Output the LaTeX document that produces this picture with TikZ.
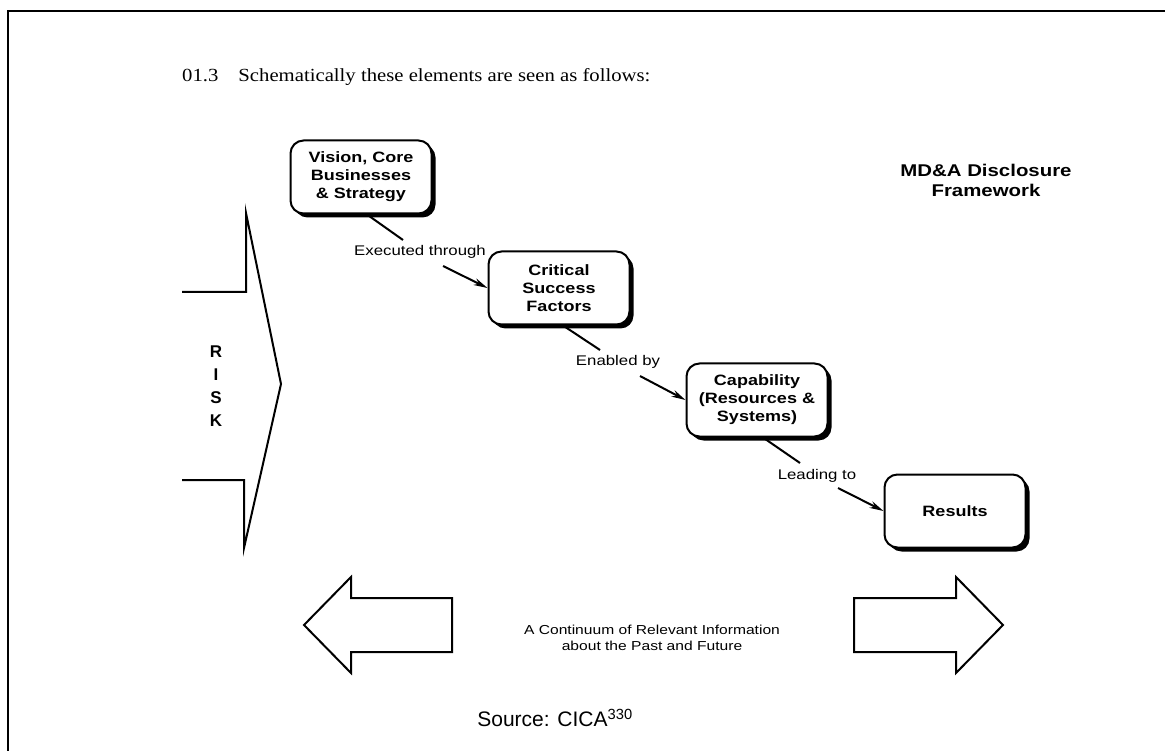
\documentclass[tikz,border=0pt]{standalone}
\usepackage{fontspec}
\setmainfont{Liberation Serif}
\setsansfont{Liberation Sans}
\newfontfamily\widesans[FakeStretch=1.2]{Liberation Sans}
\newfontfamily\widerm[FakeStretch=1.12]{Liberation Serif}
\usetikzlibrary{arrows.meta,shadows}
\begin{document}
\begin{tikzpicture}[x=1pt,y=-1pt,
  every node/.style={inner sep=0pt},
  stepbox/.style={draw,line width=2pt,rounded corners=13pt,fill=white,
    minimum width=141pt,minimum height=73pt,align=center,
    font=\widesans\bfseries\fontsize{15}{18}\selectfont,
    drop shadow={shadow xshift=4pt,shadow yshift=-4pt,fill=black,opacity=1}},
  lab/.style={font=\widesans\fontsize{14}{16}\selectfont},
  conn/.style={line width=2pt},
  arr/.style={line width=2pt,-{Stealth[length=14pt,width=7pt]}},
  outline/.style={line width=2pt,line join=miter},
  risk/.style={font=\sffamily\bfseries\fontsize{17}{17}\selectfont}
]
\useasboundingbox (0,0) rectangle (1165,751);
% frame
\draw[outline] (8,751) -- (8,11) -- (1165,11);
% title
\node[anchor=base west,font=\widerm\fontsize{18.5}{20}\selectfont] (title) at (182,82)
  {01.3\hspace{20pt}Schematically these elements are seen as follows:};
% RISK
\draw[outline] (182,292) -- (246,292) -- (246,213) -- (281,384) -- (244,548) -- (244,480) -- (182,480);
\node[risk] (rR) at (216,352) {R};
\node[risk] (rI) at (216,375) {I};
\node[risk] (rS) at (216,398) {S};
\node[risk] (rK) at (216,421) {K};
% boxes
\node[stepbox] (b1) at (361,177) {Vision, Core\\Businesses\\\& Strategy};
\node[stepbox] (b2) at (559,288) {Critical\\Success\\Factors};
\node[stepbox] (b3) at (757,400) {Capability\\(Resources \&\\Systems)};
\node[stepbox] (b4) at (955,511) {Results};
% labels
\node[lab] (l1) at (420,252) {Executed through};
\node[lab] (l2) at (618,362) {Enabled by};
\node[lab] (l3) at (817,476) {Leading to};
\coordinate (s1) at (403,240);
\coordinate (e1) at (443,266);
\coordinate (s2) at (600,350);
\coordinate (e2) at (640,376);
\coordinate (s3) at (800,463);
\coordinate (e3) at (838,488);
\draw[conn] ([xshift=6pt]b1.south) -- (s1);
\draw[arr] (e1) -- (b2.west);
\draw[conn] ([xshift=4pt]b2.south) -- (s2);
\draw[arr] (e2) -- (b3.west);
\draw[conn] ([xshift=6pt]b3.south) -- (s3);
\draw[arr] (e3) -- (b4.west);
% MD&A
\node[align=center,font=\widesans\bfseries\fontsize{17}{20}\selectfont] (mda) at (986,180)
  {MD\&A Disclosure\\Framework};
% bottom arrows
\draw[outline] (304,625) -- (351,577) -- (351,598) -- (452,598) -- (452,652) -- (351,652) -- (351,673) -- cycle;
\draw[outline] (1003,625) -- (956,577) -- (956,598) -- (854,598) -- (854,652) -- (956,652) -- (956,673) -- cycle;
\node[align=center,font=\widesans\fontsize{13}{16}\selectfont] (cont) at (652,638)
  {A Continuum of Relevant Information\\about the Past and Future};
% source
\node[font=\sffamily\fontsize{21}{24}\selectfont] (src) at (555,718) {Source: CICA\textsuperscript{330}};
\end{tikzpicture}
\end{document}
